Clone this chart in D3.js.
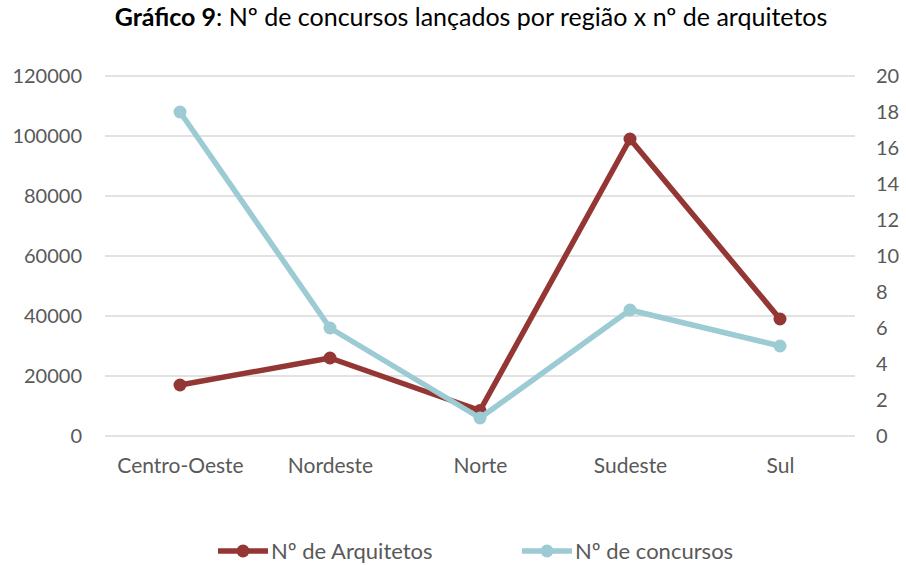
<!DOCTYPE html>
<html>
<head>
<meta charset="utf-8">
<script src="https://cdn.jsdelivr.net/npm/d3@7"></script>
<style>
  body { margin: 0; background: #fff; }
  text { font-family: Lato, "Open Sans", sans-serif; }
</style>
</head>
<body>
<div id="chart"></div>
<script>
var regions = ["Centro-Oeste", "Nordeste", "Norte", "Sudeste", "Sul"];
var arquitetos = [17000, 26000, 8500, 99000, 39000];
var concursos = [18, 6, 1, 7, 5];
var leftTicks = [0, 20000, 40000, 60000, 80000, 100000, 120000];
var rightTicks = [0, 2, 4, 6, 8, 10, 12, 14, 16, 18, 20];

var width = 906, height = 565;
var margin = { top: 76, right: 51, bottom: 129, left: 105 };
var colorArq = "#943634", colorCon = "#9ccbd4";

var svg = d3.select("#chart").append("svg")
  .attr("width", width).attr("height", height);

var x = d3.scalePoint().domain(regions)
  .range([margin.left, width - margin.right]).padding(0.5);
var yL = d3.scaleLinear().domain([0, 120000])
  .range([height - margin.bottom, margin.top]);
var yR = d3.scaleLinear().domain([0, 20])
  .range([height - margin.bottom, margin.top]);

// title
var title = svg.append("text")
  .attr("x", width / 2 + 18).attr("y", 26)
  .attr("text-anchor", "middle")
  .style("font-size", "25px").attr("fill", "#000");
title.append("tspan").attr("font-weight", "bold").text("Gráfico 9");
title.append("tspan").text(": Nº de concursos lançados por região x nº de arquitetos");

// gridlines
svg.append("g").selectAll("line")
  .data(leftTicks).enter().append("line")
  .attr("x1", margin.left).attr("x2", width - margin.right)
  .attr("y1", function (d) { return yL(d); })
  .attr("y2", function (d) { return yL(d); })
  .attr("stroke", "#d9d9d9").attr("stroke-width", 1.3);

// left axis
var gl = svg.append("g")
  .attr("transform", "translate(" + (margin.left - 23) + ",0)")
  .call(d3.axisLeft(yL).tickValues(leftTicks).tickSize(0).tickPadding(0)
    .tickFormat(d3.format("d")));
gl.select(".domain").remove();
gl.selectAll("text").style("font-size", "20px").attr("fill", "#595959")
  .attr("font-family", "Lato, sans-serif");

// right axis
var gr = svg.append("g")
  .attr("transform", "translate(" + (width - margin.right + 21) + ",0)")
  .call(d3.axisRight(yR).tickValues(rightTicks).tickSize(0).tickPadding(0));
gr.select(".domain").remove();
gr.selectAll("text").style("font-size", "20px").attr("fill", "#595959")
  .attr("font-family", "Lato, sans-serif");

// x axis
var gx = svg.append("g")
  .attr("transform", "translate(0," + (height - margin.bottom + 22) + ")")
  .call(d3.axisBottom(x).tickSize(0).tickPadding(0));
gx.select(".domain").remove();
gx.selectAll("text").style("font-size", "21px").attr("fill", "#595959")
  .attr("font-family", "Lato, sans-serif");

function drawSeries(values, scale, color) {
  var line = d3.line()
    .x(function (d, i) { return x(regions[i]); })
    .y(function (d) { return scale(d); });
  svg.append("path").datum(values)
    .attr("d", line).attr("fill", "none")
    .attr("stroke", color).attr("stroke-width", 5.5)
    .attr("stroke-linejoin", "round");
  svg.append("g").selectAll("circle")
    .data(values).enter().append("circle")
    .attr("cx", function (d, i) { return x(regions[i]); })
    .attr("cy", function (d) { return scale(d); })
    .attr("r", 6.5).attr("fill", color);
}
drawSeries(arquitetos, yL, colorArq);
drawSeries(concursos, yR, colorCon);

// legend
var legend = [
  { name: "Nº de Arquitetos", color: colorArq, x: 218 },
  { name: "Nº de concursos", color: colorCon, x: 522 }
];
var lg = svg.append("g").selectAll("g").data(legend).enter().append("g")
  .attr("transform", function (d) { return "translate(" + d.x + ",551)"; });
lg.append("line").attr("x1", 0).attr("x2", 50)
  .attr("stroke", function (d) { return d.color; }).attr("stroke-width", 5.5);
lg.append("circle").attr("cx", 25).attr("r", 6.5)
  .attr("fill", function (d) { return d.color; });
lg.append("text").attr("x", 53).attr("y", 8)
  .style("font-size", "22px").attr("fill", "#595959")
  .text(function (d) { return d.name; });
</script>
</body>
</html>
